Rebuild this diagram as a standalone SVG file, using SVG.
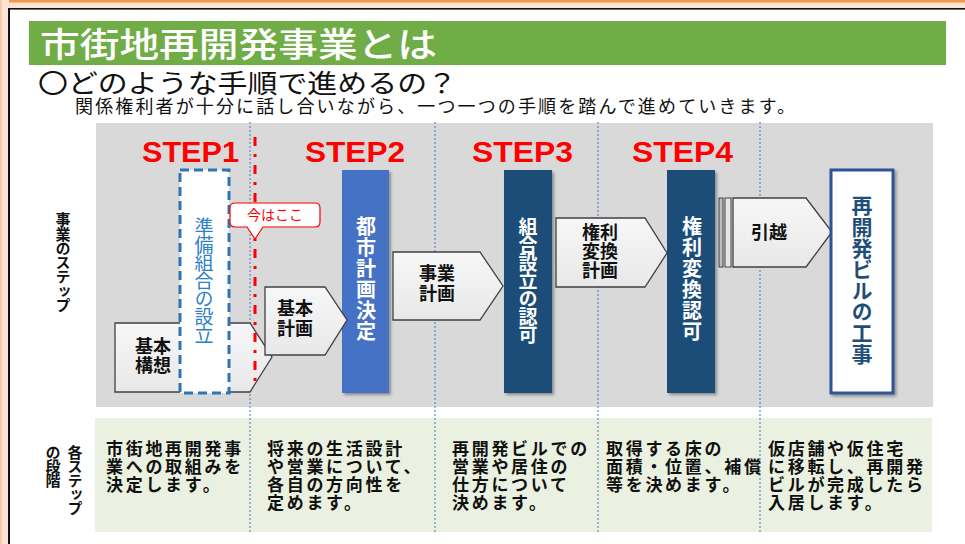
<svg xmlns="http://www.w3.org/2000/svg" width="965" height="544" viewBox="0 0 965 544">
<defs>
<linearGradient id="ag" x1="0" y1="0" x2="0" y2="1"><stop offset="0" stop-color="#f7f7f7"/><stop offset="1" stop-color="#e8e8e8"/></linearGradient>
<filter id="sh" x="-20%" y="-10%" width="150%" height="130%"><feDropShadow dx="2" dy="2" stdDeviation="1.5" flood-color="#000" flood-opacity="0.35"/></filter>
</defs>
<style>
.jp{font-family:"Noto Sans CJK JP","Noto Sans CJK SC",sans-serif}
.b{font-weight:bold}
.step{font-family:"Liberation Sans",Arial,sans-serif;font-weight:bold;font-size:30px;fill:#ff0000}
.arw{fill:url(#ag);stroke:#404040;stroke-width:1.3}
.at{font-family:"Noto Sans CJK JP",sans-serif;font-weight:bold;font-size:18px;fill:#111;text-anchor:middle}
.vt{writing-mode:vertical-rl;font-family:"Noto Sans CJK JP",sans-serif}
.bt{font-family:"Noto Sans CJK JP",sans-serif;font-weight:bold;font-size:17px;fill:#111;letter-spacing:2.7px}
.dl{stroke:#4472c4;stroke-width:1;stroke-dasharray:2 2;fill:none}
</style>
<rect width="965" height="544" fill="#ffffff"/>
<rect x="0" y="0" width="965" height="9" fill="#fbe3d5"/>
<rect x="0" y="0" width="965" height="2.5" fill="#f79646"/>
<rect x="0" y="0" width="9" height="544" fill="#fbe3d5"/>
<rect x="0" y="0" width="2" height="544" fill="#f8cbad"/>
<rect x="8" y="8" width="957" height="1.6" fill="#111"/>
<rect x="8" y="8" width="2" height="536" fill="#111"/>
<rect x="29" y="21" width="917" height="44" fill="#70ad47"/>
<text class="jp" x="40" y="57" font-size="34" fill="#ffffff" font-weight="500" textLength="397" lengthAdjust="spacingAndGlyphs">市街地再開発事業とは</text>
<text class="jp" x="38" y="93" font-size="26" fill="#111" textLength="419" lengthAdjust="spacingAndGlyphs">〇どのような手順で進めるの？</text>
<text class="jp" x="75" y="113" font-size="18" fill="#111" textLength="720" lengthAdjust="spacing">関係権利者が十分に話し合いながら、一つ一つの手順を踏んで進めていきます。</text>
<rect x="96" y="123" width="837" height="284" fill="#d9d9d9"/>
<rect x="95" y="418" width="837" height="114" fill="#ebf1e0"/>
<text class="vt b" x="63" y="212" font-size="15" fill="#111" letter-spacing="-0.7">事業のステップ</text>
<text class="vt b" x="75" y="445" font-size="15" fill="#111" letter-spacing="-1">各ステップ</text>
<text class="vt b" x="53" y="445" font-size="15" fill="#111" letter-spacing="-1">の段階</text>
<g id="connectors">
<line class="dl" x1="250" y1="122" x2="250" y2="534"/>
<line class="dl" x1="435" y1="122" x2="435" y2="534"/>
<line class="dl" x1="598" y1="122" x2="598" y2="534"/>
<line class="dl" x1="760" y1="122" x2="760" y2="534"/>
</g>
<text class="step" x="142" y="162" textLength="97" lengthAdjust="spacingAndGlyphs">STEP1</text>
<text class="step" x="305" y="162" textLength="100" lengthAdjust="spacingAndGlyphs">STEP2</text>
<text class="step" x="472" y="162" textLength="101" lengthAdjust="spacingAndGlyphs">STEP3</text>
<text class="step" x="632" y="162" textLength="101" lengthAdjust="spacingAndGlyphs">STEP4</text>
<g id="kihon-kousou">
<polygon class="arw" points="115,323 250,323 272,357 250,392 115,392"/>
<text class="at" font-size="19"><tspan x="153" y="353">基本</tspan><tspan x="153" y="372">構想</tspan></text>
</g>
<g id="junbi-kumiai">
<rect x="180" y="170" width="49" height="223" fill="#ffffff" stroke="#2e75b6" stroke-width="3" stroke-dasharray="9 5"/>
<text class="vt" x="204" y="217" font-size="19" fill="#2e80c8" letter-spacing="-1">準備組合の設立</text>
</g>
<g id="ima-line">
<line x1="255" y1="137" x2="255" y2="386" stroke="#ff0000" stroke-width="3" stroke-dasharray="9 8 3 8"/>
</g>
<g id="ima-callout">
<path d="M235,203 H315 Q320,203 320,208 V222 Q320,227 315,227 H263 L255,239 L247,227 H235 Q230,227 230,222 V208 Q230,203 235,203 Z" fill="#ffffff" stroke="#ff0000" stroke-width="1.2"/>
<text class="jp" x="275" y="220" font-size="14" fill="#ff0000" text-anchor="middle">今はここ</text>
</g>
<g id="toshi-keikaku">
<rect x="342" y="170" width="47" height="223" fill="#4472c4" filter="url(#sh)"/>
<text class="vt b" x="366" y="216" font-size="20" fill="#ffffff" letter-spacing="1">都市計画決定</text>
</g>
<g id="kihon-keikaku">
<polygon class="arw" points="265,287 325,287 347,320 325,355 265,355"/>
<text class="at"><tspan x="295" y="315">基本</tspan><tspan x="295" y="335">計画</tspan></text>
</g>
<g id="jigyou-keikaku">
<polygon class="arw" points="393,252 480,252 503,286 480,320 393,320"/>
<text class="at"><tspan x="437" y="280">事業</tspan><tspan x="437" y="300">計画</tspan></text>
</g>
<g id="kumiai-ninka">
<rect x="504" y="170" width="48" height="223" fill="#1f4e79" filter="url(#sh)"/>
<text class="vt b" x="528" y="217" font-size="19" fill="#ffffff" letter-spacing="-1">組合設立の認可</text>
</g>
<g id="kenri-keikaku">
<polygon class="arw" points="556,218 645,218 667,253 645,287 556,287"/>
<text class="at"><tspan x="600" y="239">権利</tspan><tspan x="600" y="258">変換</tspan><tspan x="600" y="277">計画</tspan></text>
</g>
<g id="kenri-ninka">
<rect x="667" y="170" width="48" height="223" fill="#1f4e79" filter="url(#sh)"/>
<text class="vt b" x="692" y="216" font-size="20" fill="#ffffff" letter-spacing="1">権利変換認可</text>
</g>
<g id="hikkoshi">
<rect x="719" y="198" width="4" height="69" fill="#bfbfbf" stroke="#404040" stroke-width="1"/>
<rect x="725" y="198" width="6" height="69" fill="#e6e6e6" stroke="#404040" stroke-width="1"/>
<polygon class="arw" points="733,198 806,198 832,232 806,267 733,267"/>
<text class="at" x="769" y="239">引越</text>
</g>
<g id="biru-kouji">
<rect x="831" y="170" width="62" height="223" fill="#ffffff" stroke="#2f5597" stroke-width="3" filter="url(#sh)"/>
<text class="vt b" x="862" y="195" font-size="21" fill="#1f4e79" letter-spacing="0.2">再開発ビルの工事</text>
</g>
<g id="desc">
<text class="bt"><tspan x="106" y="455">市街地再開発事</tspan><tspan x="106" y="473">業への取組みを</tspan><tspan x="106" y="491">決定します。</tspan></text>
<text class="bt"><tspan x="267" y="455">将来の生活設計</tspan><tspan x="267" y="473">や営業について、</tspan><tspan x="267" y="491">各自の方向性を</tspan><tspan x="267" y="509">定めます。</tspan></text>
<text class="bt"><tspan x="452" y="455">再開発ビルでの</tspan><tspan x="452" y="473">営業や居住の</tspan><tspan x="452" y="491">仕方について</tspan><tspan x="452" y="509">決めます。</tspan></text>
<text class="bt"><tspan x="606" y="455">取得する床の</tspan><tspan x="606" y="473">面積・位置、補償</tspan><tspan x="606" y="491">等を決めます。</tspan></text>
<text class="bt"><tspan x="768" y="455">仮店舗や仮住宅</tspan><tspan x="768" y="473">に移転し、再開発</tspan><tspan x="768" y="491">ビルが完成したら</tspan><tspan x="768" y="509">入居します。</tspan></text>
</g>
</svg>
